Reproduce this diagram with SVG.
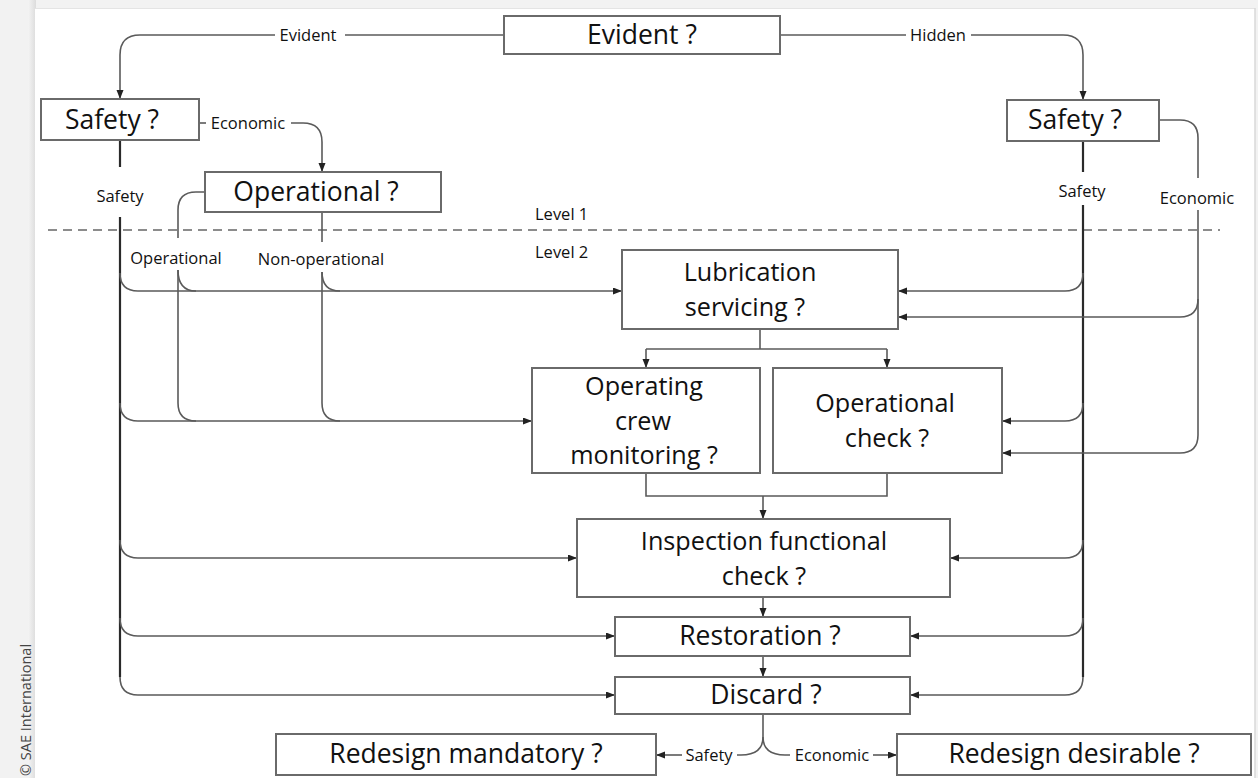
<svg xmlns="http://www.w3.org/2000/svg" width="1258" height="778" viewBox="0 0 1258 778">
<defs>
<marker id="arr" markerUnits="userSpaceOnUse" markerWidth="10" markerHeight="8" refX="9" refY="3.5" orient="auto">
<path d="M0,0 L9,3.5 L0,7 z" fill="#222"/>
</marker>
<linearGradient id="shl" x1="0" y1="0" x2="1" y2="0">
<stop offset="0" stop-color="#f4f4f4"/>
<stop offset="1" stop-color="#dcdcdc"/>
</linearGradient>
</defs>
<style>
.box{fill:#fff;stroke:#6a6a6a;stroke-width:2}
.bt{font-family:"Open Sans","Liberation Sans",sans-serif;font-size:26.5px;fill:#111;text-anchor:middle}
.bm{font-size:25.2px}
.lb{font-family:"Open Sans","Liberation Sans",sans-serif;font-size:16.5px;fill:#111}
.c{fill:none;stroke:#5a5a5a;stroke-width:1.6}
.tr{fill:none;stroke:#2a2a2a;stroke-width:2.2}
.a{marker-end:url(#arr)}
</style>
<rect x="0" y="0" width="1258" height="778" fill="#f2f2f2"/>
<rect x="28" y="0" width="8" height="778" fill="url(#shl)"/>
<rect x="35" y="8" width="1220" height="770" fill="#fff"/>
<line x1="35" y1="8.5" x2="1255" y2="8.5" stroke="#e4e4e4" stroke-width="1"/>
<line x1="1255" y1="8" x2="1255" y2="778" stroke="#d8d8d8" stroke-width="1.5"/>
<text transform="translate(31,776) rotate(-90)" font-family="Open Sans, Liberation Sans, sans-serif" font-size="14.5" fill="#444">© SAE International</text>

<g id="level-divider">
<line x1="48" y1="230" x2="1220" y2="230" stroke="#8c8c8c" stroke-width="2" stroke-dasharray="9 6"/>
<text class="lb" x="535" y="220">Level 1</text>
<text class="lb" x="535" y="258">Level 2</text>
</g>

<g id="connectors">
<path class="c" d="M504,35 H345"/>
<path class="c a" d="M275,35 H140 Q120,35 120,55 V99"/>
<path class="c" d="M780,35 H906"/>
<path class="c a" d="M971,35 H1063 Q1083,35 1083,55 V100"/>
<text class="lb" x="308" y="41" text-anchor="middle">Evident</text>
<text class="lb" x="938" y="41" text-anchor="middle">Hidden</text>
<path class="c" d="M199,123 H206"/>
<path class="c a" d="M291,123 H303 Q322,123 322,142 V172"/>
<text class="lb" x="248" y="129" text-anchor="middle">Economic</text>
<path class="tr" d="M120,140 V167"/>
<text class="lb" x="120" y="202" text-anchor="middle">Safety</text>
<path class="tr" d="M120,217 V677"/>
<path class="c a" d="M120,677 Q120,695 138,695 H615"/>
<path class="c a" d="M120,273 Q120,291 138,291 H622"/>
<path class="c a" d="M120,403 Q120,421 138,421 H532"/>
<path class="c a" d="M120,540 Q120,558 138,558 H577"/>
<path class="c a" d="M120,618 Q120,636 138,636 H615"/>
<path class="c" d="M205,192 H196 Q178,192 178,210 V238"/>
<text class="lb" x="176" y="264" text-anchor="middle">Operational</text>
<path class="c" d="M178,270 Q178,291 196,291"/>
<path class="c" d="M178,270 V403 Q178,421 196,421"/>
<path class="c" d="M322,212 V242"/>
<text class="lb" x="321" y="265" text-anchor="middle">Non-operational</text>
<path class="c" d="M322,272 Q322,291 340,291"/>
<path class="c" d="M322,272 V403 Q322,421 340,421"/>
<path class="tr" d="M1083,141 V172"/>
<text class="lb" x="1082" y="197" text-anchor="middle">Safety</text>
<path class="tr" d="M1083,205 V677"/>
<path class="c a" d="M1083,677 Q1083,695 1065,695 H910"/>
<path class="c a" d="M1083,273 Q1083,291 1065,291 H898"/>
<path class="c a" d="M1083,403 Q1083,421 1065,421 H1002"/>
<path class="c a" d="M1083,540 Q1083,558 1065,558 H950"/>
<path class="c a" d="M1083,618 Q1083,636 1065,636 H910"/>
<path class="c" d="M1159,120 H1180 Q1198,120 1198,138 V178"/>
<text class="lb" x="1197" y="204" text-anchor="middle">Economic</text>
<path class="c a" d="M1198,210 V435 Q1198,453 1180,453 H1002"/>
<path class="c a" d="M1198,299 Q1198,317 1180,317 H898"/>
<path class="c" d="M760,329 V349"/>
<path class="c a" d="M646,349 V368"/>
<path class="c a" d="M887,349 V368"/>
<path class="c" d="M646,349 H887"/>
<path class="c" d="M646,473 V496 H887 V473"/>
<path class="c a" d="M763,496 V519"/>
<path class="c a" d="M763,597 V617"/>
<path class="c a" d="M763,656 V677"/>
<path class="c" d="M763,714 V737 Q763,755 741,755 H737"/>
<path class="c" d="M763,737 Q763,755 785,755 H790"/>
<text class="lb" x="709" y="761" text-anchor="middle">Safety</text>
<text class="lb" x="832" y="761" text-anchor="middle">Economic</text>
<path class="c a" d="M682,755 H656"/>
<path class="c a" d="M873,755 H897"/>
</g>

<g id="evident"><rect class="box" x="504" y="16" width="276" height="38"/><text class="bt" x="642" y="44">Evident ?</text></g>
<g id="safety-left"><rect class="box" x="41" y="99" width="158" height="41"/><text class="bt" x="112" y="129">Safety ?</text></g>
<g id="operational"><rect class="box" x="205" y="172" width="236" height="40"/><text class="bt" x="316" y="201">Operational ?</text></g>
<g id="safety-right"><rect class="box" x="1007" y="100" width="152" height="41"/><text class="bt" x="1075" y="129">Safety ?</text></g>
<g id="lubrication"><rect class="box" x="622" y="250" width="276" height="79"/><text class="bt bm" y="281"><tspan x="750">Lubrication</tspan><tspan x="745" dy="34.5">servicing ?</tspan></text></g>
<g id="crew-monitoring"><rect class="box" x="532" y="368" width="228" height="105"/><text class="bt bm" y="395"><tspan x="644">Operating</tspan><tspan x="643" dy="34.5">crew</tspan><tspan x="644" dy="34.5">monitoring ?</tspan></text></g>
<g id="operational-check"><rect class="box" x="773" y="368" width="229" height="105"/><text class="bt bm" y="412"><tspan x="885">Operational</tspan><tspan x="887" dy="34.5">check ?</tspan></text></g>
<g id="inspection"><rect class="box" x="577" y="519" width="373" height="78"/><text class="bt bm" y="550"><tspan x="764">Inspection functional</tspan><tspan x="764" dy="34.5">check ?</tspan></text></g>
<g id="restoration"><rect class="box" x="615" y="617" width="295" height="39"/><text class="bt" x="760" y="645">Restoration ?</text></g>
<g id="discard"><rect class="box" x="615" y="677" width="295" height="37"/><text class="bt" x="766" y="704">Discard ?</text></g>
<g id="redesign-mandatory"><rect class="box" x="276" y="734" width="380" height="41"/><text class="bt" x="466" y="763">Redesign mandatory ?</text></g>
<g id="redesign-desirable"><rect class="box" x="897" y="734" width="354" height="41"/><text class="bt" x="1074" y="763">Redesign desirable ?</text></g>
</svg>
